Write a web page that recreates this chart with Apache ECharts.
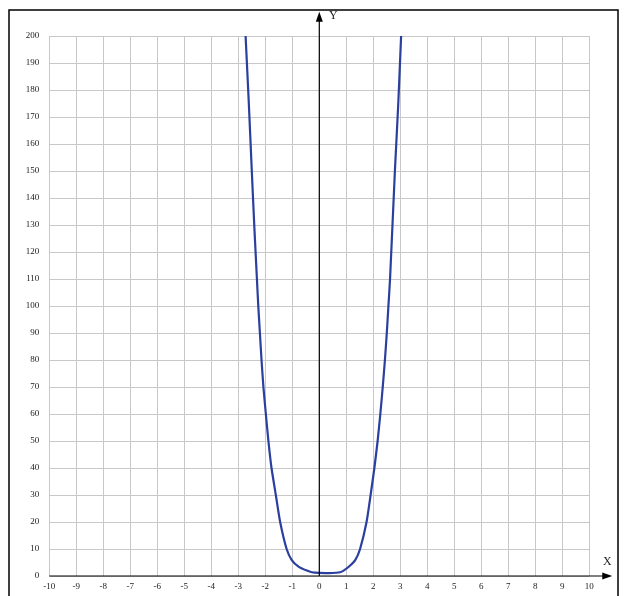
<!DOCTYPE html>
<html>
<head>
<meta charset="utf-8">
<script src="https://cdn.jsdelivr.net/npm/echarts@6/dist/echarts.min.js"></script>
<style>
html,body{margin:0;padding:0;background:#fff;}
#chart{width:627px;height:596px;}
</style>
</head>
<body>
<div id="chart"></div>
<script>
// Axis ranges and tick settings
const xMin = -10, xMax = 10, xStep = 1;
const yMin = 0, yMax = 200, yStep = 10;
// Axis arrow ends (in data units)
const xArrowEnd = 10.85;
const yArrowEnd = 209;
// Curve points
const curveX = [-2.73, -2.61, -2.50, -2.40, -2.31, -2.26, -2.20, -2.14, -2.07, -1.98, -1.885, -1.77, -1.61, -1.45, -1.21, -1.02, -0.77, -0.46, -0.28, 0.00, 0.35, 0.62, 0.77, 0.90, 1.10, 1.33, 1.51, 1.75, 1.90, 2.04, 2.16, 2.26, 2.35, 2.43, 2.50, 2.56, 2.62, 2.80, 2.925, 3.03];
const curveY = [200, 175, 150, 128, 110, 100, 90, 80, 70, 60, 50, 40, 30, 20, 10, 5.9, 3.5, 2.0, 1.4, 1.15, 1.1, 1.2, 1.4, 2.0, 3.5, 5.9, 10, 20, 30, 40, 50, 60, 70, 80, 90, 100, 110, 150, 175, 200];
const axisNames = {x: 'X', y: 'Y'};

const chart = echarts.init(document.getElementById('chart'));
const labelFont = {fontFamily: 'Liberation Serif', fontSize: 9, color: '#222'};
const gridLine = {show: true, lineStyle: {color: '#c8c8c8', width: 1}};

chart.setOption({
  animation: false,
  backgroundColor: '#fff',
  grid: {left: 49.3, right: 37.7, top: 36, bottom: 20, containLabel: false},
  xAxis: {
    type: 'value', min: xMin, max: xMax, interval: xStep,
    axisLine: {show: false}, axisTick: {show: false},
    axisLabel: Object.assign({margin: 6}, labelFont),
    splitLine: gridLine
  },
  yAxis: {
    type: 'value', min: yMin, max: yMax, interval: yStep,
    axisLine: {show: false}, axisTick: {show: false},
    axisLabel: Object.assign({margin: 10}, labelFont),
    splitLine: gridLine
  },
  series: [{
    type: 'line',
    data: curveX.map((x, i) => [x, curveY[i]]),
    smooth: 0.2,
    showSymbol: false,
    clip: false,
    lineStyle: {color: '#2b3f9e', width: 2.2, join: 'round'},
    z: 3
  }]
});

// Axes with arrows, placed through the chart's own scales
const px = (v) => chart.convertToPixel({gridIndex: 0}, v);
const xa0 = px([xMin, 0]), xa1 = px([xArrowEnd, 0]);
const ya0 = px([0, yMin]), ya1 = px([0, yArrowEnd]);
const aL = 10, aW = 3.5;
chart.setOption({
  graphic: [
    {type: 'rect', shape: {x: 9, y: 10, width: 609, height: 600},
     style: {fill: 'none', stroke: '#000', lineWidth: 1.5}, silent: true, z: 1},
    {type: 'line', shape: {x1: xa0[0], y1: xa0[1], x2: xa1[0] - aL + 1, y2: xa1[1]},
     style: {stroke: '#000', lineWidth: 1.2}, silent: true, z: 10},
    {type: 'polygon', shape: {points: [[xa1[0], xa1[1]], [xa1[0] - aL, xa1[1] - aW], [xa1[0] - aL, xa1[1] + aW]]},
     style: {fill: '#000'}, silent: true, z: 10},
    {type: 'line', shape: {x1: ya0[0], y1: ya0[1], x2: ya1[0], y2: ya1[1] + aL - 1},
     style: {stroke: '#000', lineWidth: 1.2}, silent: true, z: 10},
    {type: 'polygon', shape: {points: [[ya1[0], ya1[1]], [ya1[0] - aW, ya1[1] + aL], [ya1[0] + aW, ya1[1] + aL]]},
     style: {fill: '#000'}, silent: true, z: 10},
    {type: 'text', x: ya1[0] + 14, y: ya1[1] + 4,
     style: {text: axisNames.y, fontFamily: 'Liberation Serif', fontSize: 12, fill: '#222', align: 'center', verticalAlign: 'middle'}, silent: true, z: 10},
    {type: 'text', x: xa1[0] - 5, y: xa1[1] - 14,
     style: {text: axisNames.x, fontFamily: 'Liberation Serif', fontSize: 12, fill: '#222', align: 'center', verticalAlign: 'middle'}, silent: true, z: 10}
  ]
});
</script>
</body>
</html>
